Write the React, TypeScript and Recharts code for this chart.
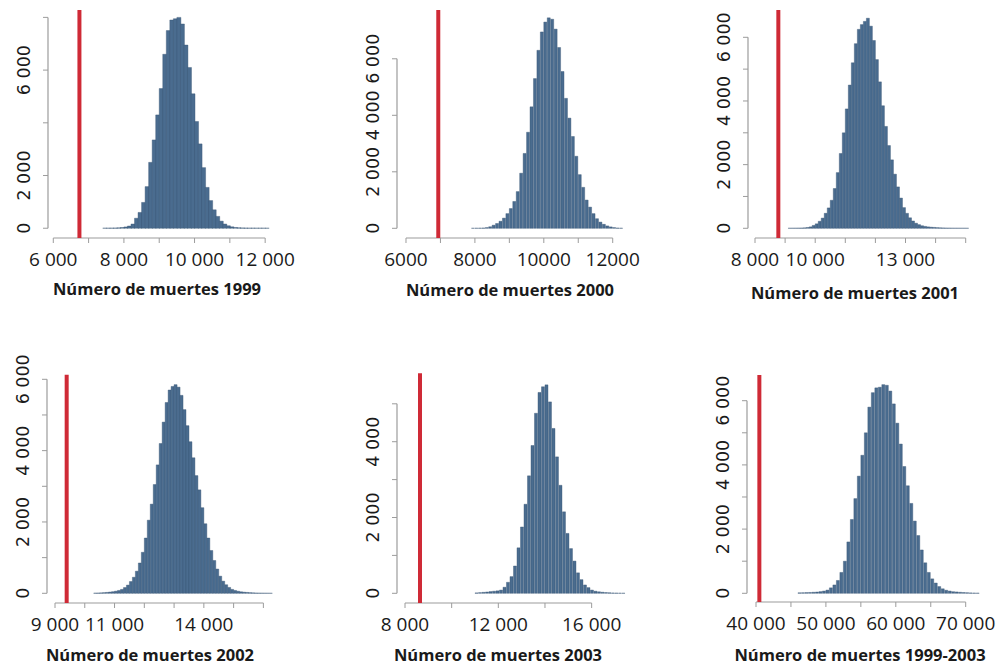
import React from 'react';
import { ComposedChart, Bar, XAxis, YAxis, ReferenceLine } from 'recharts';

const AXIS = '#9c9c9c';
const BAR_FILL = '#4a6c8f';
const BAR_STROKE = '#3b5674';
const RED = '#cf2a36';

// 1999
const start1999 = 7400;
const bin1999 = 100;
const counts1999 = [
  3, 4, 6, 10, 16, 28, 50, 85, 160, 380, 600, 980, 1580, 2500, 3350, 4300, 5300, 6600, 7500, 7900,
  7950, 8000, 7750, 6950, 6100, 5100, 4050, 3200, 2300, 1550, 1050, 700, 450, 270, 160, 95, 55, 30,
  18, 12, 8, 6, 5, 4, 3, 3, 2,
];
const observed1999 = 6740;
const xTicks1999 = [6000, 7000, 8000, 9000, 10000, 11000, 12000];
const xLabels1999: Record<number, string> = { 6000: '6 000', 8000: '8 000', 10000: '10 000', 12000: '12 000' };
const yTicks1999 = [0, 2000, 4000, 6000, 8000];
const yLabels1999: Record<number, string> = { 0: '0', 2000: '2 000', 6000: '6 000' };

// 2000
const start2000 = 7900;
const bin2000 = 100;
const counts2000 = [
  2, 4, 7, 12, 25, 55, 110, 170, 250, 360, 520, 700, 950, 1300, 1950, 2650, 3400, 4300, 5300, 6300,
  6950, 7300, 7450, 7400, 7050, 6400, 5550, 4600, 3900, 3250, 2550, 1900, 1450, 1000, 750, 520, 340,
  220, 140, 85, 50, 25, 10, 4,
];
const observed2000 = 6937;
const xTicks2000 = [6000, 7000, 8000, 9000, 10000, 11000, 12000];
const xLabels2000: Record<number, string> = { 6000: '6000', 8000: '8000', 10000: '10000', 12000: '12000' };
const yTicks2000 = [0, 2000, 4000, 6000];
const yLabels2000: Record<number, string> = { 0: '0', 2000: '2 000', 4000: '4 000', 6000: '6 000' };

// 2001
const start2001 = 9100;
const bin2001 = 100;
const counts2001 = [
  2, 3, 4, 6, 9, 14, 25, 45, 90, 140, 220, 320, 470, 640, 880, 1250, 1750, 2350, 3000, 3750,
  4500, 5200, 5800, 6250, 6400, 6500, 6600, 6350, 5900, 5300, 4600, 3850, 3200, 2600, 2150, 1700, 1300,
  950, 650, 470, 330, 230, 160, 115, 80, 60, 45, 35, 28, 20, 15, 11, 8, 6, 4, 3, 3, 2, 2, 1,
];
const observed2001 = 8775;
const xTicks2001 = [8000, 9000, 10000, 11000, 12000, 13000, 14000, 15000];
const xLabels2001: Record<number, string> = { 8000: '8 000', 10000: '10 000', 13000: '13 000' };
const yTicks2001 = [0, 1000, 2000, 3000, 4000, 5000, 6000];
const yLabels2001: Record<number, string> = { 0: '0', 2000: '2 000', 4000: '4 000', 6000: '6 000' };

// 2002
const start2002 = 10300;
const bin2002 = 100;
const counts2002 = [
  5, 8, 12, 18, 25, 35, 45, 60, 80, 110, 160, 230, 330, 450, 620, 850, 1150, 1550, 2050, 2500,
  3050, 3600, 4200, 4800, 5350, 5700, 5800, 5850, 5780, 5550, 5150, 4700, 4250, 3800, 3300, 2900, 2400,
  1950, 1550, 1200, 920, 680, 480, 340, 240, 165, 110, 80, 58, 42, 32, 25, 18, 13, 9, 6, 4, 3, 2, 1,
];
const observed2002 = 9392;
const redTop2002 = 6130;
const xTicks2002 = [9000, 10000, 11000, 12000, 13000, 14000, 15000, 16000];
const xLabels2002: Record<number, string> = { 9000: '9 000', 11000: '11 000', 14000: '14 000' };
const yTicks2002 = [0, 1000, 2000, 3000, 4000, 5000, 6000];
const yLabels2002: Record<number, string> = { 0: '0', 2000: '2 000', 4000: '4 000', 6000: '6 000' };

// 2003
const start2003 = 11000;
const bin2003 = 150;
const counts2003 = [
  10, 18, 25, 35, 45, 55, 65, 85, 160, 290, 440, 720, 1200, 1750, 2350, 3100, 3900, 4750, 5300, 5450,
  5500, 5050, 4350, 3600, 2850, 2150, 1580, 1180, 850, 540, 360, 220, 150, 85, 55, 40, 28, 20, 14, 9,
  6, 4, 2,
];
const observed2003 = 8643;
const redTop2003 = 5805;
const xTicks2003 = [8000, 10000, 12000, 14000, 16000];
const xLabels2003: Record<number, string> = { 8000: '8 000', 12000: '12 000', 16000: '16 000' };
const yTicks2003 = [0, 1000, 2000, 3000, 4000, 5000];
const yLabels2003: Record<number, string> = { 0: '0', 2000: '2 000', 4000: '4 000' };

// 1999-2003
const startAll = 46000;
const binAll = 500;
const countsAll = [
  15, 18, 22, 26, 32, 40, 52, 70, 100, 170, 260, 400, 650, 1000, 1600, 2300, 2950, 3650, 4300, 5000,
  5800, 6250, 6400, 6420, 6500, 6480, 6300, 5900, 5300, 4650, 3950, 3350, 2800, 2250, 1800, 1350, 950,
  650, 450, 320, 210, 140, 95, 70, 52, 42, 32, 24, 18, 12, 8, 5,
];
const observedAll = 40480;
const redTopAll = 6800;
const xTicksAll = [40000, 45000, 50000, 55000, 60000, 65000, 70000];
const xLabelsAll: Record<number, string> = { 40000: '40 000', 50000: '50 000', 60000: '60 000', 70000: '70 000' };
const yTicksAll = [0, 1000, 2000, 3000, 4000, 5000, 6000];
const yLabelsAll: Record<number, string> = { 0: '0', 2000: '2 000', 4000: '4 000', 6000: '6 000' };

const toBins = (start: number, width: number, counts: number[]) =>
  counts.map((n, i) => ({ x: start + i * width + width / 2, n }));

const YW = 50;
const XH = 45;
const RM = 20;
const TM = 30;

const panels = [
  {
    title: 'Número de muertes 1999', data: toBins(start1999, bin1999, counts1999), obs: observed1999, redTop: null,
    xTicks: xTicks1999, xLabels: xLabels1999, yTicks: yTicks1999, yLabels: yLabels1999,
    left: 48, top: 10, w: 232, h: 228, xDomain: [5850, 12420], yDomain: [-370, 8280], titleX: 157, titleY: 289,
  },
  {
    title: 'Número de muertes 2000', data: toBins(start2000, bin2000, counts2000), obs: observed2000, redTop: null,
    xTicks: xTicks2000, xLabels: xLabels2000, yTicks: yTicks2000, yLabels: yLabels2000,
    left: 397, top: 10, w: 233, h: 228, xDomain: [5739, 12502], yDomain: [-343, 7727], titleX: 510, titleY: 290,
  },
  {
    title: 'Número de muertes 2001', data: toBins(start2001, bin2001, counts2001), obs: observed2001, redTop: null,
    xTicks: xTicks2001, xLabels: xLabels2001, yTicks: yTicks2001, yLabels: yLabels2001,
    left: 748, top: 10, w: 227, h: 228, xDomain: [7767, 15309], yDomain: [-305, 6858], titleX: 855, titleY: 293,
  },
  {
    title: 'Número de muertes 2002', data: toBins(start2002, bin2002, counts2002), obs: observed2002, redTop: redTop2002,
    xTicks: xTicks2002, xLabels: xLabels2002, yTicks: yTicks2002, yLabels: yLabels2002,
    left: 47, top: 365, w: 233, h: 238, xDomain: [8731, 16558], yDomain: [-272, 6401], titleX: 150, titleY: 655,
  },
  {
    title: 'Número de muertes 2003', data: toBins(start2003, bin2003, counts2003), obs: observed2003, redTop: redTop2003,
    xTicks: xTicks2003, xLabels: xLabels2003, yTicks: yTicks2003, yLabels: yLabels2003,
    left: 397, top: 365, w: 233, h: 238, xDomain: [7657, 17644], yDomain: [-256, 6024], titleX: 498, titleY: 655,
  },
  {
    title: 'Número de muertes 1999-2003', data: toBins(startAll, binAll, countsAll), obs: observedAll, redTop: redTopAll,
    xTicks: xTicksAll, xLabels: xLabelsAll, yTicks: yTicksAll, yLabels: yLabelsAll,
    left: 747, top: 365, w: 238, h: 237, xDomain: [38712, 72761], yDomain: [-271, 7112], titleX: 860, titleY: 655,
  },
];

const XTick = ({ x, y, payload, labels }: any) => {
  const t = labels[payload.value];
  if (!t) return <g />;
  return (
    <text x={x} y={y} dy={21} textAnchor="middle" fontFamily="'Open Sans', sans-serif" fontSize={19} fill="#1a1a1a">
      {t}
    </text>
  );
};

const YTick = ({ x, y, payload, labels }: any) => {
  const t = labels[payload.value];
  if (!t) return <g />;
  return (
    <text
      transform={`translate(${x - 11.5},${y}) rotate(-90)`}
      textAnchor="middle"
      fontFamily="'DejaVu Sans', sans-serif"
      fontSize={17.5}
      fill="#1a1a1a"
    >
      {t}
    </text>
  );
};

const Panel = ({ p }: { p: any }) => {
  const yMin = p.yDomain[0];
  const redTop = p.redTop ?? p.yDomain[1];
  return (
    <>
      <div style={{ position: 'absolute', left: p.left - YW, top: p.top - TM }}>
        <ComposedChart
          width={p.w + YW + RM}
          height={p.h + XH + TM}
          data={p.data}
          margin={{ top: TM, right: RM, bottom: 0, left: 0 }}
          barCategoryGap={0}
          barGap={0}
        >
          <XAxis
            dataKey="x"
            type="number"
            domain={p.xDomain}
            allowDataOverflow
            ticks={p.xTicks}
            interval={0}
            axisLine={false}
            tickLine={{ stroke: AXIS }}
            tickSize={5}
            height={XH}
            tick={(props: any) => <XTick {...props} labels={p.xLabels} />}
          />
          <YAxis
            type="number"
            domain={p.yDomain}
            allowDataOverflow
            ticks={p.yTicks}
            interval={0}
            axisLine={false}
            tickLine={{ stroke: AXIS }}
            tickSize={5}
            width={YW}
            tick={(props: any) => <YTick {...props} labels={p.yLabels} />}
          />
          <Bar dataKey="n" fill={BAR_FILL} stroke={BAR_STROKE} strokeWidth={0.4} isAnimationActive={false} />
          <ReferenceLine
            segment={[{ x: p.xTicks[0], y: yMin }, { x: p.xTicks[p.xTicks.length - 1], y: yMin }]}
            stroke={AXIS}
            strokeWidth={1.2}
            ifOverflow="visible"
          />
          <ReferenceLine
            segment={[{ x: p.xDomain[0], y: p.yTicks[0] }, { x: p.xDomain[0], y: p.yTicks[p.yTicks.length - 1] }]}
            stroke={AXIS}
            strokeWidth={1.2}
            ifOverflow="visible"
          />
          <ReferenceLine
            segment={[{ x: p.obs, y: yMin }, { x: p.obs, y: redTop }]}
            stroke={RED}
            strokeWidth={4}
            ifOverflow="visible"
          />
        </ComposedChart>
      </div>
      <div
        style={{
          position: 'absolute',
          left: p.titleX - 160,
          top: p.titleY - 11,
          width: 320,
          textAlign: 'center',
          fontFamily: "'Open Sans', sans-serif",
          fontWeight: 700,
          fontSize: 16.5,
          lineHeight: '22px',
          color: '#1a1a1a',
        }}
      >
        {p.title}
      </div>
    </>
  );
};

export default function App() {
  return (
    <div style={{ position: 'absolute', left: 0, top: 0, width: 1007, height: 666, background: '#fff', overflow: 'hidden' }}>
      {panels.map((p) => (
        <Panel key={p.title} p={p} />
      ))}
    </div>
  );
}
